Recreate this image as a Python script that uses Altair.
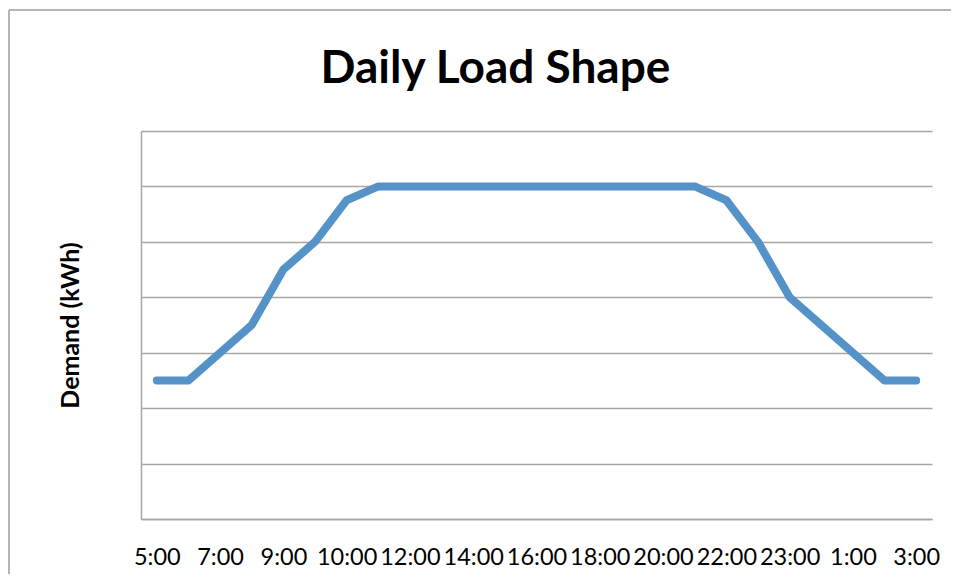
import altair as alt
import pandas as pd

times = ["5:00", "6:00", "7:00", "8:00", "9:00", "9:30", "10:00", "11:00", "12:00",
         "13:00", "14:00", "15:00", "16:00", "17:00", "18:00", "19:00", "20:00",
         "21:00", "22:00", "22:30", "23:00", "0:00", "1:00", "2:00", "3:00"]
demand = [2.5, 2.5, 3.0, 3.5, 4.5, 5.0, 5.75, 6, 6, 6, 6, 6, 6, 6, 6, 6, 6, 6,
          5.75, 5.0, 4.0, 3.5, 3.0, 2.5, 2.5]
shown_labels = times[::2]

df = pd.DataFrame({"time": times, "demand": demand})

FONT = "Lato"
GRID = "#A6A6A6"

line = alt.Chart(df).mark_line(
    color="#5592C8", strokeWidth=8, strokeCap="round", strokeJoin="round"
).encode(
    x=alt.X("time:O", sort=times, title=None,
            scale=alt.Scale(type="point", padding=0.5),
            axis=alt.Axis(values=shown_labels, labelAngle=0, labelOverlap=False,
                          ticks=False, labelPadding=26, labelFont=FONT,
                          labelFontSize=23.5, labelColor="#000000",
                          domainColor=GRID, domainWidth=1.5, grid=False)),
    y=alt.Y("demand:Q", title="Demand (kWh)",
            scale=alt.Scale(domain=[0, 7], nice=False),
            axis=alt.Axis(values=[0, 1, 2, 3, 4, 5, 6, 7], labels=False, ticks=False,
                          domainColor=GRID, domainWidth=1.5, gridColor=GRID,
                          gridWidth=1.5, titleFont=FONT, titleFontSize=25,
                          titleFontWeight="bold", titleColor="#000000",
                          titlePadding=58)),
)

one = alt.Data(values=[{"k": 1}])
border_top = alt.Chart(one).mark_rule(color="#B4B4B4", strokeWidth=2).encode(
    x=alt.value(-132), x2=alt.value(830), y=alt.value(-121))
border_left = alt.Chart(one).mark_rule(color="#B4B4B4", strokeWidth=2).encode(
    x=alt.value(-132), y=alt.value(-121), y2=alt.value(460))

chart = alt.layer(border_top, border_left, line).properties(
    width=791, height=388,
    title=alt.TitleParams("Daily Load Shape", font=FONT, fontSize=46,
                          fontWeight="bold", color="#000000", anchor="middle",
                          dx=-41, offset=-84),
    autosize=alt.AutoSizeParams(type="none"),
    padding={"left": 133, "top": 123, "right": 19, "bottom": 55},
).configure_view(stroke=None)

chart.save("out.html", embed_options={"renderer": "svg", "actions": False})
